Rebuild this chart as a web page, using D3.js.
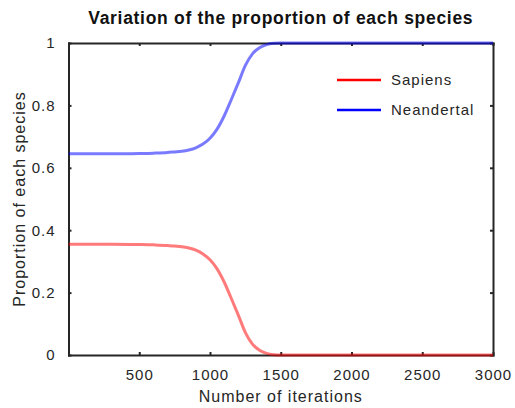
<!DOCTYPE html>
<html>
<head>
<meta charset="utf-8">
<script src="https://cdn.jsdelivr.net/npm/d3@7"></script>
<style>
	body { margin: 0; background: #fff; }
	svg { display: block; }
</style>
</head>
<body>
<script>
// values
const iterations = [1, 300, 500, 600, 700, 750, 800, 850, 900, 950, 1000, 1050, 1100, 1150, 1200, 1250, 1300, 1350, 1400, 1450, 1500, 2000, 2500, 3000];
const sapiens    = [0.355, 0.355, 0.354, 0.353, 0.351, 0.349, 0.347, 0.343, 0.336, 0.324, 0.305, 0.276, 0.234, 0.182, 0.128, 0.072, 0.035, 0.015, 0.005, 0.001, 0, 0, 0, 0];
const neandertal = [0.645, 0.645, 0.646, 0.647, 0.649, 0.651, 0.653, 0.657, 0.664, 0.676, 0.695, 0.724, 0.766, 0.818, 0.872, 0.928, 0.965, 0.985, 0.995, 0.999, 1, 1, 1, 1];
const xTicks = [500, 1000, 1500, 2000, 2500, 3000];
const yTicks = [0, 0.2, 0.4, 0.6, 0.8, 1];
const seriesNames = ["Sapiens", "Neandertal"];
const seriesColors = ["#ff0000", "#0000ff"];

const width = 515, height = 408;
const margin = {top: 43, right: 22, bottom: 53, left: 68.5};
const axisColor = "#262626";
const font = "'Liberation Sans', Arial, sans-serif";

const x = d3.scaleLinear()
	.domain([0, 3000])
	.range([margin.left, width - margin.right]);
const y = d3.scaleLinear()
	.domain([0, 1])
	.range([height - margin.bottom, margin.top]);

const svg = d3.select("body").append("svg")
	.attr("width", width)
	.attr("height", height);

const styleAxis = g => g
	.call(g => g.select(".domain").attr("stroke", axisColor).attr("stroke-width", 2))
	.call(g => g.selectAll(".tick line").attr("stroke", axisColor).attr("stroke-width", 2))
	.call(g => g.selectAll(".tick text")
		.attr("fill", "#262626")
		.attr("font-family", font)
		.attr("font-size", 15)
		.attr("letter-spacing", "1px"));

// bottom axis with labels
svg.append("g")
		.attr("transform", `translate(0,${y(0)})`)
		.call(d3.axisBottom(x).tickValues(xTicks).tickSizeInner(-3).tickSizeOuter(0).tickPadding(14).tickFormat(d3.format("d")))
		.call(styleAxis);

// top axis, ticks only
svg.append("g")
		.attr("transform", `translate(0,${y(1)})`)
		.call(d3.axisTop(x).tickValues(xTicks).tickSizeInner(-3).tickSizeOuter(0).tickFormat(""))
		.call(styleAxis);

// left axis with labels
svg.append("g")
		.attr("transform", `translate(${x(0)},0)`)
		.call(d3.axisLeft(y).tickValues(yTicks).tickSizeInner(-3).tickSizeOuter(0).tickPadding(13).tickFormat(d3.format("~g")))
		.call(styleAxis);

// right axis, ticks only
svg.append("g")
		.attr("transform", `translate(${x(3000)},0)`)
		.call(d3.axisRight(y).tickValues(yTicks).tickSizeInner(-3).tickSizeOuter(0).tickFormat(""))
		.call(styleAxis);

svg.selectAll(".domain").attr("stroke-linecap", "square");

// curves
const line = d3.line()
	.x((d, i) => x(iterations[i]))
	.y(d => y(d))
	.curve(d3.curveMonotoneX);

svg.append("g")
		.attr("fill", "none")
		.attr("stroke-width", 3)
		.attr("stroke-opacity", 0.52)
	.selectAll("path")
	.data([sapiens, neandertal])
	.join("path")
		.attr("stroke", (d, i) => seriesColors[i])
		.attr("d", line);

// legend
const legend = svg.append("g")
		.attr("font-family", font)
		.attr("font-size", 15)
		.attr("letter-spacing", "1px")
	.selectAll("g")
	.data(seriesNames)
	.join("g")
		.attr("transform", (d, i) => `translate(337,${80 + i * 30})`);

legend.append("line")
	.attr("x1", 0)
	.attr("x2", 44)
	.attr("stroke", (d, i) => seriesColors[i])
	.attr("stroke-width", 2.5);

legend.append("text")
	.attr("x", 54)
	.attr("dy", "0.35em")
	.attr("fill", "#262626")
	.text(d => d);

// title and axis labels
svg.append("text")
	.attr("x", (x(0) + x(3000)) / 2)
	.attr("y", 24)
	.attr("text-anchor", "middle")
	.attr("font-family", font)
	.attr("font-weight", "bold")
	.attr("font-size", 17.5)
	.attr("letter-spacing", "0.7px")
	.attr("fill", "#111")
	.text("Variation of the proportion of each species");

svg.append("text")
	.attr("x", (x(0) + x(3000)) / 2)
	.attr("y", 402)
	.attr("text-anchor", "middle")
	.attr("font-family", font)
	.attr("font-size", 16)
	.attr("letter-spacing", "1px")
	.attr("fill", "#262626")
	.text("Number of iterations");

svg.append("text")
	.attr("transform", `translate(25,${(y(0) + y(1)) / 2}) rotate(-90)`)
	.attr("text-anchor", "middle")
	.attr("font-family", font)
	.attr("font-size", 16)
	.attr("letter-spacing", "1px")
	.attr("fill", "#262626")
	.text("Proportion of each species");
</script>
</body>
</html>
